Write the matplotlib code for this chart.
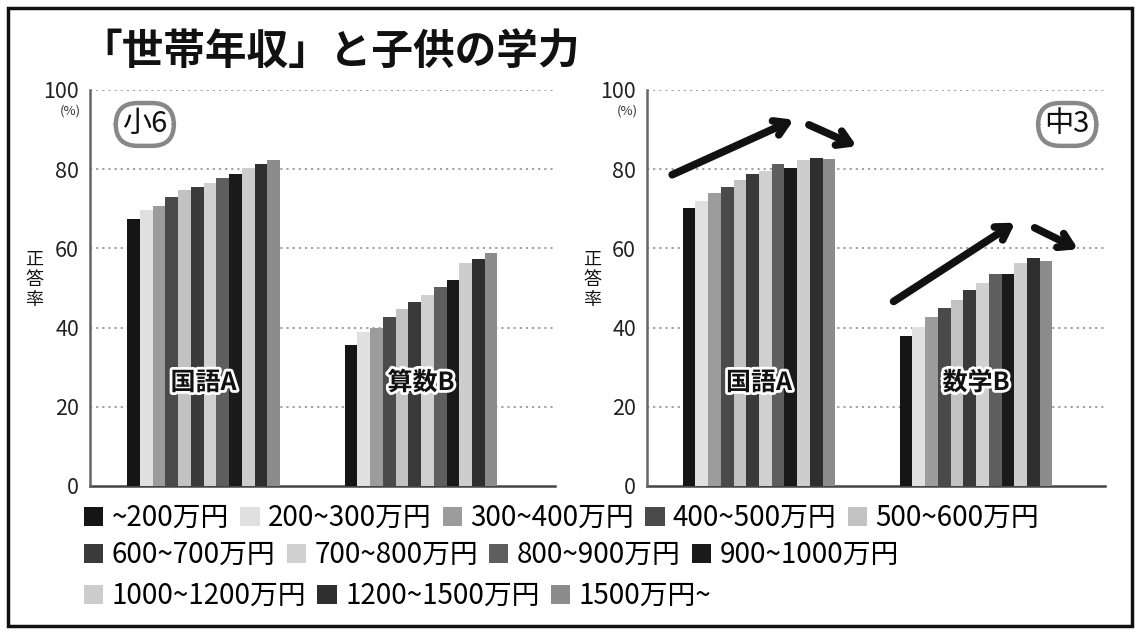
import matplotlib
matplotlib.use("Agg")
import matplotlib.pyplot as plt
import matplotlib.patheffects as pe
from matplotlib.patches import Rectangle
import numpy as np

plt.rcParams['font.family'] = ['Noto Sans CJK JP', 'DejaVu Sans']

income_labels = ["~200万円", "200~300万円", "300~400万円", "400~500万円", "500~600万円",
                 "600~700万円", "700~800万円", "800~900万円", "900~1000万円",
                 "1000~1200万円", "1200~1500万円", "1500万円~"]
colors = ["#151515", "#e0e0e0", "#9c9c9c", "#4a4a4a", "#c2c2c2", "#3a3a3a",
          "#d0d0d0", "#5e5e5e", "#1a1a1a", "#cdcdcd", "#2e2e2e", "#8c8c8c"]

sho6_subjects = ["国語A", "算数B"]
sho6_kokugoA = [67.3, 69.6, 70.6, 73.1, 74.7, 75.4, 76.6, 77.7, 78.9, 80.2, 81.4, 82.2]
sho6_sansuB = [35.6, 39.0, 40.0, 42.6, 44.8, 46.5, 48.2, 50.3, 52.1, 56.3, 57.2, 58.9]

chu3_subjects = ["国語A", "数学B"]
chu3_kokugoA = [70.2, 71.9, 74.1, 75.5, 77.3, 78.8, 79.6, 81.3, 80.4, 82.4, 82.8, 82.5]
chu3_sugakuB = [38.0, 40.2, 42.7, 45.0, 46.9, 49.6, 51.3, 53.6, 53.6, 56.2, 57.6, 56.8]

W, H = 1140, 634
fig = plt.figure(figsize=(W / 100, H / 100), dpi=100)

def fx(px):
    return px / W

def fy(py):
    return 1 - py / H

# outer border
fig.patches.append(Rectangle((fx(8), fy(626)), fx(1124), (618) / H, transform=fig.transFigure,
                             fill=False, edgecolor="#111111", linewidth=2.5))

fig.text(fx(80), fy(52), "「世帯年収」と子供の学力", fontsize=30, fontweight="bold",
         ha="left", va="center", color="#111111")

bw = 0.0586
n = len(income_labels)
offsets = (np.arange(n) - (n - 1) / 2) * bw

def make_panel(rect, xlim, subjects, series, badge, badge_x):
    ax = fig.add_axes(rect)
    handles = []
    for i in range(n):
        vals = [s[i] for s in series]
        h = ax.bar(np.arange(len(subjects)) + offsets[i], vals, width=bw, color=colors[i],
                   linewidth=0, zorder=3, label=income_labels[i])
        handles.append(h)
    ax.set_xlim(*xlim)
    ax.set_ylim(0, 100)
    ax.set_yticks([0, 20, 40, 60, 80, 100])
    ax.set_xticks([])
    for yv in [20, 40, 60, 80, 100]:
        ax.axhline(yv, color="#999999", linestyle=(0, (1.2, 2.2)), linewidth=1.3, zorder=1)
    ax.tick_params(axis="y", length=0, pad=8, labelsize=15.5, labelcolor="#222222")
    for s in ["top", "right"]:
        ax.spines[s].set_visible(False)
    ax.spines["left"].set_color("#666666")
    ax.spines["left"].set_linewidth(1.8)
    ax.spines["bottom"].set_color("#444444")
    ax.spines["bottom"].set_linewidth(1.8)
    ax.spines["left"].set_zorder(5)
    trans = matplotlib.transforms.blended_transform_factory(ax.transAxes, ax.transData)
    ax.text(-0.02, 94.6, "(%)", transform=trans, ha="right", va="center", fontsize=9.5,
            color="#333333")
    ax.text(-0.12, 52, "正\n答\n率", transform=trans, ha="center", va="center",
            fontsize=13, linespacing=1.15, color="#111111")
    for j, sub in enumerate(subjects):
        ax.text(j, 26, sub, ha="center", va="center", fontsize=18, fontweight="bold",
                color="#111111", zorder=6,
                path_effects=[pe.withStroke(linewidth=4, foreground="white")])
    ax.text(badge_x, 91.3, badge, ha="center", va="center", fontsize=21, color="#111111",
            zorder=6,
            bbox=dict(boxstyle="round,pad=0.22,rounding_size=0.75", facecolor="white",
                      edgecolor="#888888", linewidth=3.2))
    return ax, handles

axL, handles = make_panel([fx(90), fy(486), fx(465), 396 / H], (-0.522, 1.616),
                          sho6_subjects, [sho6_kokugoA, sho6_sansuB], "小6", -0.27)
axR, _ = make_panel([fx(647), fy(486), fx(458), 396 / H], (-0.516, 1.594),
                    chu3_subjects, [chu3_kokugoA, chu3_sugakuB], "中3", 1.42)

arrows = [((-0.40, 78.6), (0.16, 92.5)), ((0.23, 91.2), (0.45, 85.8)),
          ((0.62, 46.6), (1.18, 66.5)), ((1.27, 65.2), (1.47, 59.8))]
for (x0, y0), (x1, y1) in arrows:
    axR.annotate("", xy=(x1, y1), xytext=(x0, y0), xycoords="data", textcoords="data",
                 arrowprops=dict(arrowstyle="->,head_length=0.9,head_width=0.55",
                                 color="#111111", linewidth=5.5, shrinkA=0, shrinkB=0),
                 annotation_clip=False, zorder=7)

rows = [list(range(0, 5)), list(range(5, 9)), list(range(9, 12))]
row_y = [518, 555, 596]
for r, ry in zip(rows, row_y):
    fig.legend([handles[i] for i in r], [income_labels[i] for i in r], loc="center left",
               bbox_to_anchor=(fx(84), fy(ry)), ncol=len(r), frameon=False,
               fontsize=20, handlelength=0.7, handleheight=0.7, handletextpad=0.3,
               columnspacing=0.4, borderaxespad=0, borderpad=0)

fig.savefig("out.png", dpi=100, facecolor="white")
